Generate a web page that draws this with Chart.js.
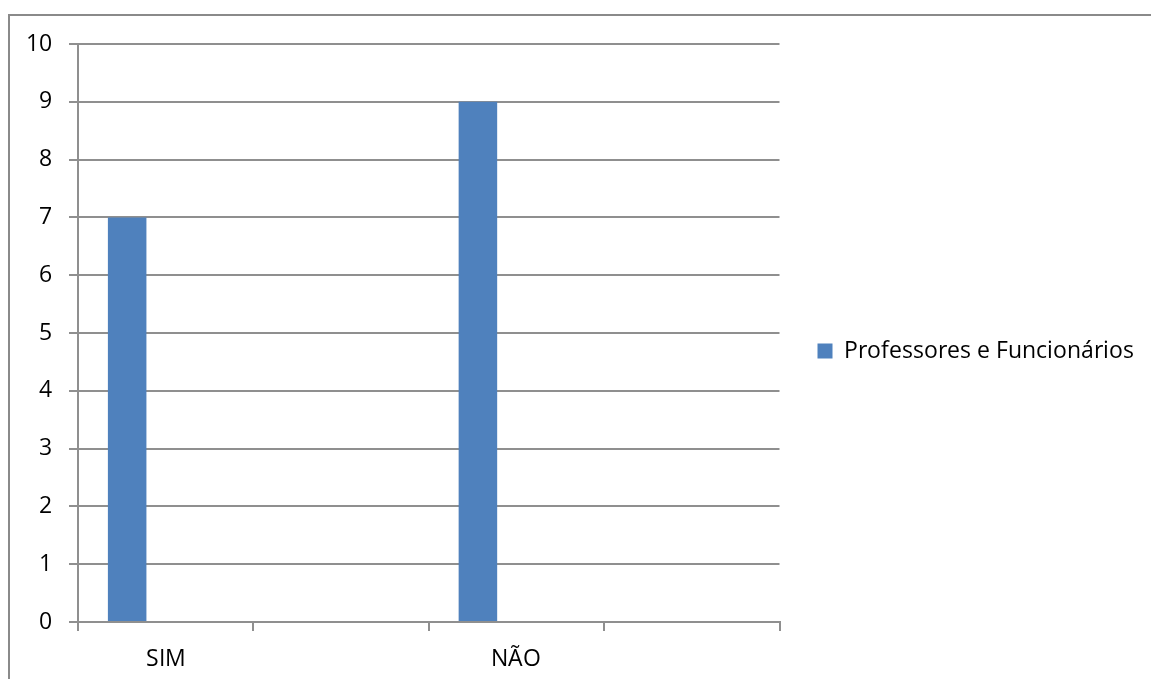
<!DOCTYPE html>
<html lang="pt">
<head>
<meta charset="utf-8">
<title>Professores e Funcionários</title>
<script src="https://cdn.jsdelivr.net/npm/chart.js@4/dist/chart.umd.min.js"></script>
<style>
  @font-face {
    font-family: "ChartSans";
    src: local("Open Sans Regular"), local("OpenSans-Regular"), local("Open Sans");
  }
  html, body { margin: 0; padding: 0; background: #ffffff; overflow: hidden; }
  #wrap { position: relative; width: 1151px; height: 679px; }
  #frame {
    position: absolute; left: 8px; top: 14px; width: 1200px; height: 700px;
    border-left: 2px solid #8a8a8a; border-top: 2px solid #8a8a8a;
  }
  #chart { position: absolute; left: 0; top: 0; }
</style>
</head>
<body>
<div id="wrap">
  <div id="frame"></div>
  <canvas id="chart" width="1151" height="679"></canvas>
</div>
<script>
// Categories on the x axis (two unnamed slots, as in the source sheet)
const categories = ['SIM', '', 'NÃO', ''];
// Series names and values
const seriesNames = ['Professores e Funcionários', 'Série 2', 'Série 3'];
const professoresFuncionarios = [7, null, 9, null];
const serie2 = [null, null, null, null];
const serie3 = [null, null, null, null];
// Value axis
const yMin = 0;
const yMax = 10;
const yStep = 1;

const FONT_FAMILY = '"ChartSans", "Open Sans", "Noto Sans", sans-serif';
const FONT_SIZE = 23;
const GRID = '#8f8f8f';
const BAR = '#4F81BD';

const PLOT_RIGHT = 782;      // right edge of the plot area
const LEGEND_PAD = 38;
const LEGEND_BOX = 15;
const LEGEND_SHIFT = -10.5;  // nudge the legend item up a little

// Moves the legend block vertically after layout
const legendNudge = {
  id: 'legendNudge',
  afterLayout(chart) {
    if (chart.legend) {
      chart.legend.top += LEGEND_SHIFT;
      chart.legend.bottom += LEGEND_SHIFT;
    }
  }
};

function drawChart() {
  // Size the legend so the plot area ends at PLOT_RIGHT
  const mctx = document.createElement('canvas').getContext('2d');
  mctx.font = FONT_SIZE + 'px ' + FONT_FAMILY;
  const legendTextW = mctx.measureText(seriesNames[0]).width;
  const legendW = LEGEND_PAD + LEGEND_BOX + FONT_SIZE / 2 + legendTextW;
  const rightPad = Math.max(0, (1151 - PLOT_RIGHT) - legendW);

  new Chart(document.getElementById('chart'), {
    type: 'bar',
    data: {
      labels: categories,
      datasets: [
        { label: seriesNames[0], data: professoresFuncionarios, backgroundColor: BAR },
        { label: seriesNames[1], data: serie2, backgroundColor: '#C0504D' },
        { label: seriesNames[2], data: serie3, backgroundColor: '#9BBB59' }
      ]
    },
    plugins: [legendNudge],
    options: {
      responsive: false,
      animation: false,
      devicePixelRatio: 1,
      font: { family: FONT_FAMILY, size: FONT_SIZE },
      color: '#000000',
      layout: { padding: { left: 0, top: 44, right: rightPad, bottom: 0 } },
      datasets: {
        bar: { categoryPercentage: 116 / 176, barPercentage: 1, borderWidth: 0 }
      },
      plugins: {
        tooltip: { enabled: false },
        legend: {
          position: 'right',
          align: 'center',
          maxWidth: Math.ceil(legendW) + 2,
          labels: {
            boxWidth: LEGEND_BOX,
            boxHeight: LEGEND_BOX,
            padding: LEGEND_PAD,
            color: '#000000',
            font: { family: FONT_FAMILY, size: FONT_SIZE },
            filter: (item, data) => data.datasets[item.datasetIndex].data.some(v => v !== null)
          }
        }
      },
      scales: {
        x: {
          afterFit: (s) => { s.height = 57; },
          offset: true,
          grid: {
            display: true,
            offset: true,
            drawOnChartArea: false,
            drawTicks: true,
            tickLength: 9,
            color: GRID,
            lineWidth: 2
          },
          border: { display: true, color: GRID, width: 2 },
          ticks: {
            padding: 15,
            color: '#000000',
            font: { family: FONT_FAMILY, size: FONT_SIZE },
            autoSkip: false,
            maxRotation: 0
          }
        },
        y: {
          afterFit: (s) => { s.width = 78; },
          min: yMin,
          max: yMax,
          grid: {
            color: GRID,
            lineWidth: 2,
            drawTicks: true,
            tickLength: 9
          },
          border: { display: true, color: GRID, width: 2 },
          ticks: {
            stepSize: yStep,
            padding: 17,
            color: '#000000',
            font: { family: FONT_FAMILY, size: FONT_SIZE }
          }
        }
      }
    }
  });
}

document.fonts.load(FONT_SIZE + 'px ChartSans').then(drawChart, drawChart);
</script>
</body>
</html>
